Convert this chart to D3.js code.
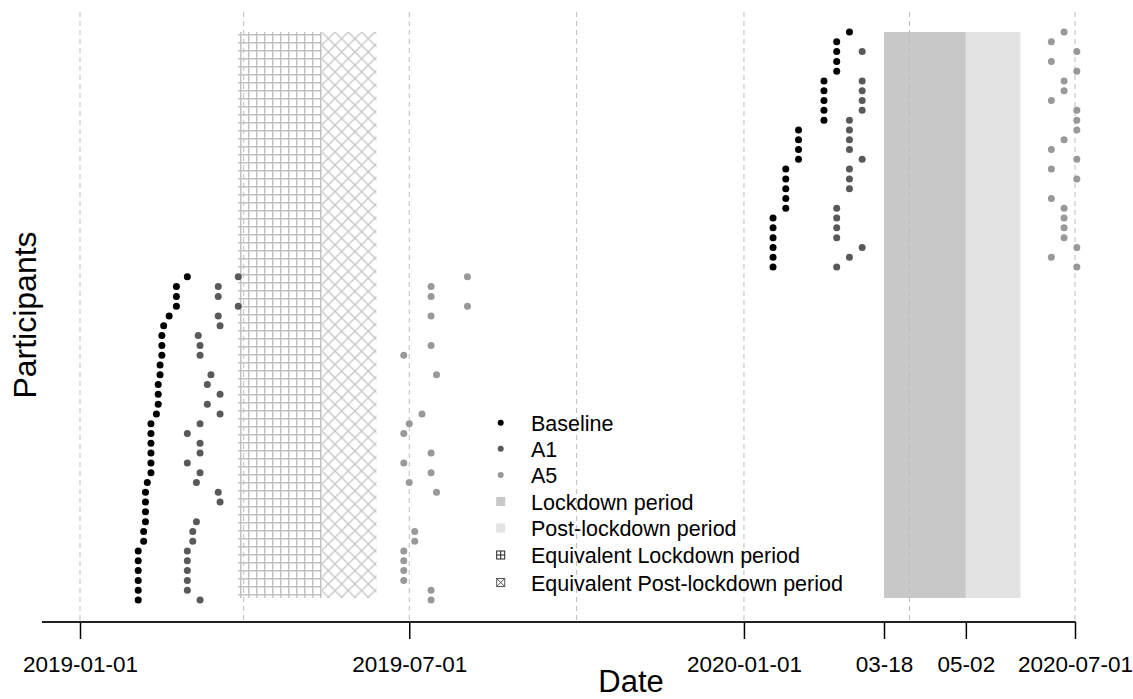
<!DOCTYPE html>
<html><head><meta charset="utf-8">
<script src="https://cdn.jsdelivr.net/npm/d3@7"></script>
<style>body{margin:0;background:#fff;} text{font-family:"Liberation Sans",Arial,sans-serif;}</style>
</head><body><svg id="c" width="1133" height="699"></svg>
<script>
// participant rows 1..59 (bottom to top)
const baseline = [
 "2019-02-02","2019-02-02","2019-02-02","2019-02-02","2019-02-02","2019-02-02",
 "2019-02-05","2019-02-05","2019-02-06","2019-02-06","2019-02-06","2019-02-06",
 "2019-02-07","2019-02-09","2019-02-09","2019-02-09","2019-02-09","2019-02-09","2019-02-09",
 "2019-02-12","2019-02-13","2019-02-13","2019-02-13","2019-02-14","2019-02-14",
 "2019-02-15","2019-02-15","2019-02-15","2019-02-16","2019-02-19",
 "2019-02-23","2019-02-23","2019-02-23","2019-03-01",
 "2020-01-17","2020-01-17","2020-01-17","2020-01-17","2020-01-17","2020-01-17",
 "2020-01-24","2020-01-24","2020-01-24","2020-01-24","2020-01-24",
 "2020-01-31","2020-01-31","2020-01-31","2020-01-31",
 "2020-02-14","2020-02-14","2020-02-14","2020-02-14","2020-02-14",
 "2020-02-21","2020-02-21","2020-02-21","2020-02-21","2020-02-28"];
const a1 = [
 "2019-03-08","2019-03-01","2019-03-01","2019-03-01","2019-03-01","2019-03-01",
 "2019-03-04","2019-03-04","2019-03-06",null,"2019-03-19","2019-03-18",
 "2019-03-06","2019-03-08","2019-03-01","2019-03-08","2019-03-08","2019-03-01","2019-03-08",
 "2019-03-19","2019-03-12","2019-03-19","2019-03-12","2019-03-14",null,
 "2019-03-08","2019-03-08","2019-03-07","2019-03-19","2019-03-18",
 "2019-03-29","2019-03-18","2019-03-18","2019-03-29",
 "2020-02-21","2020-02-28","2020-03-06","2020-02-21","2020-02-21","2020-02-21",
 "2020-02-21",null,"2020-02-28","2020-02-28","2020-02-28",
 "2020-03-06","2020-02-28","2020-02-28","2020-02-28",
 "2020-02-28","2020-03-06","2020-03-06","2020-03-06","2020-03-06",
 null,null,"2020-03-06",null,null];
const a5 = [
 "2019-07-13","2019-07-13","2019-06-28","2019-06-28","2019-06-28","2019-06-28",
 "2019-07-04","2019-07-04",null,null,null,"2019-07-16",
 "2019-07-01","2019-07-13","2019-06-28","2019-07-13",null,"2019-06-28","2019-07-01",
 "2019-07-08",null,null,null,"2019-07-16",null,
 "2019-06-28","2019-07-13",null,null,"2019-07-13",
 "2019-08-02","2019-07-13","2019-07-13","2019-08-02",
 "2020-07-02","2020-06-18","2020-07-02","2020-06-25","2020-06-25","2020-06-25",
 "2020-06-25","2020-06-18",null,"2020-07-02","2020-06-18",
 "2020-07-02","2020-06-18","2020-06-25","2020-07-02",
 "2020-07-02","2020-07-02","2020-06-18","2020-06-25","2020-06-25",
 "2020-07-02","2020-06-18","2020-07-02","2020-06-18","2020-06-25"];
const lockdown = ["2020-03-18","2020-05-02"];
const postLockdown = ["2020-05-02","2020-06-01"];
const eqLockdown = ["2019-03-29","2019-05-14"];
const eqPostLockdown = ["2019-05-14","2019-06-13"];
const tickDates = ["2019-01-01","2019-07-01","2020-01-01","2020-03-18","2020-05-02","2020-07-01"];
const tickLabels = ["2019-01-01","2019-07-01","2020-01-01","03-18","05-02","2020-07-01"];
const gridDates = ["2019-01-01","2019-04-01","2019-07-01","2019-10-01","2020-01-01","2020-04-01","2020-07-01"];
const seriesNames = ["Baseline","A1","A5"];
const legendLabels = ["Baseline","A1","A5","Lockdown period","Post-lockdown period","Equivalent Lockdown period","Equivalent Post-lockdown period"];

const P = d3.utcParse("%Y-%m-%d");
const svg = d3.select("#c");
const x = d3.scaleUtc().domain([P("2019-01-01"), P("2020-07-01")]).range([80, 1075]);
const y = d3.scaleLinear().domain([1, 59]).range([600, 32]);
const colors = {Baseline:"#000000", A1:"#595959", A5:"#999999"};

const defs = svg.append("defs");
const pg = defs.append("pattern").attr("id","grid").attr("patternUnits","userSpaceOnUse")
  .attr("width",8).attr("height",8).attr("x",240).attr("y",34);
pg.append("line").attr("x1",0.75).attr("x2",0.75).attr("y1",0).attr("y2",8).attr("stroke","#c2c2c2").attr("stroke-width",1.5);
pg.append("line").attr("x1",0).attr("x2",8).attr("y1",0.75).attr("y2",0.75).attr("stroke","#c2c2c2").attr("stroke-width",1.5);
const pc = defs.append("pattern").attr("id","cross").attr("patternUnits","userSpaceOnUse")
  .attr("width",13.3).attr("height",13.3).attr("x",321.7).attr("y",32);
pc.append("line").attr("x1",0).attr("y1",0).attr("x2",13.3).attr("y2",13.3).attr("stroke","#c6c6c6").attr("stroke-width",1.3);
pc.append("line").attr("x1",13.3).attr("y1",0).attr("x2",0).attr("y2",13.3).attr("stroke","#c6c6c6").attr("stroke-width",1.3);

const yTop = y(59), yBot = 598;
function band(d, fill){
  svg.append("rect").attr("x", x(P(d[0]))).attr("y", yTop)
    .attr("width", x(P(d[1])) - x(P(d[0]))).attr("height", yBot - yTop).attr("fill", fill);
}
band(eqLockdown, "url(#grid)");
band(eqPostLockdown, "url(#cross)");
band(lockdown, "#c8c8c8");
band(postLockdown, "#e3e3e3");

// gridlines
svg.append("g").selectAll("line").data(gridDates).join("line")
  .attr("x1", d => x(P(d))).attr("x2", d => x(P(d)))
  .attr("y1", 12).attr("y2", 622)
  .attr("stroke", "#bdbdbd").attr("stroke-width", 1).attr("stroke-dasharray", "5,4");

// points
[baseline, a1, a5].forEach((arr, si) => {
  const name = seriesNames[si];
  const data = arr.map((d, i) => ({d, p: i + 1})).filter(o => o.d);
  svg.append("g").selectAll("circle").data(data).join("circle")
    .attr("cx", o => x(P(o.d))).attr("cy", o => y(o.p)).attr("r", 3.5)
    .attr("fill", colors[name]);
});

// x axis
const axis = d3.axisBottom(x).tickValues(tickDates.map(P))
  .tickFormat((d, i) => tickLabels[i]).tickSize(17).tickSizeOuter(0);
const ag = svg.append("g").attr("transform", "translate(0,622)").call(axis);
ag.select(".domain").remove();
ag.selectAll(".tick line").attr("stroke", "#000").attr("stroke-width", 1.5);
ag.selectAll(".tick text").attr("y", 50).attr("dy", 0).attr("fill", "#000")
  .style("font-size", "22.5px").style("font-family", "'Liberation Sans',Arial,sans-serif");
svg.append("line").attr("x1", 42).attr("x2", x(P("2020-07-01")) + 0.75).attr("y1", 622).attr("y2", 622)
  .attr("stroke", "#222").attr("stroke-width", 1.8);

svg.append("text").attr("x", 631).attr("y", 692).attr("text-anchor", "middle")
  .style("font-size", "31px").text("Date");
svg.append("text").attr("transform", "translate(36,315) rotate(-90)").attr("text-anchor", "middle")
  .style("font-size", "32px").text("Participants");

// legend
const lg = svg.append("g");
const ly = [422.7, 448.8, 475, 501.5, 528, 555, 582.5];
legendLabels.forEach((t, i) => {
  const cy = ly[i], cx = 500.7;
  if (i < 3) lg.append("circle").attr("cx", cx).attr("cy", cy).attr("r", 3).attr("fill", colors[seriesNames[i]]);
  else if (i === 3) lg.append("rect").attr("x", cx - 4.5).attr("y", cy - 4.5).attr("width", 9).attr("height", 9).attr("fill", "#c8c8c8");
  else if (i === 4) lg.append("rect").attr("x", cx - 4.5).attr("y", cy - 4.5).attr("width", 9).attr("height", 9).attr("fill", "#e3e3e3");
  else {
    const g = lg.append("g").attr("stroke", i === 5 ? "#222" : "#555").attr("stroke-width", 1).attr("fill", "none");
    g.append("rect").attr("x", cx - 4).attr("y", cy - 4).attr("width", 8).attr("height", 8);
    if (i === 5) {
      g.append("line").attr("x1", cx).attr("x2", cx).attr("y1", cy - 4).attr("y2", cy + 4);
      g.append("line").attr("x1", cx - 4).attr("x2", cx + 4).attr("y1", cy).attr("y2", cy);
    } else {
      g.append("line").attr("x1", cx - 4).attr("x2", cx + 4).attr("y1", cy - 4).attr("y2", cy + 4);
      g.append("line").attr("x1", cx + 4).attr("x2", cx - 4).attr("y1", cy - 4).attr("y2", cy + 4);
    }
  }
  lg.append("text").attr("x", 531).attr("y", cy + 8).style("font-size", "21.5px").attr("fill", "#000").text(t);
});
</script></body></html>
